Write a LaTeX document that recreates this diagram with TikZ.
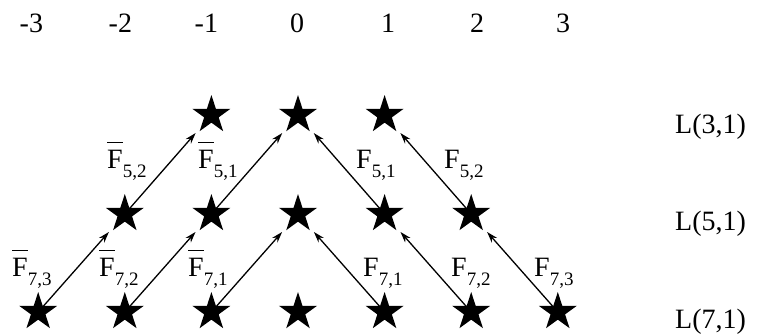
\documentclass[tikz,border=0pt]{standalone}
\usepackage{fontspec}
\setmainfont{Liberation Serif}
\usetikzlibrary{shapes.geometric,arrows.meta}
\newcommand\Fs[1]{F\raisebox{-9.5pt}{\fontsize{19}{19}\selectfont #1}}
\newcommand\Fbs[1]{\makebox[0pt][l]{\rule[25pt]{16pt}{1.4pt}}\Fs{#1}}
\tikzset{
  starnode/.style={star,star points=5,star point ratio=2.618,fill=black,draw=none,minimum size=40pt,inner sep=0pt},
  flab/.style={font=\fontsize{28}{28}\selectfont,inner sep=0pt,anchor=base west},
  collab/.style={font=\fontsize{28}{28}\selectfont,inner sep=0pt,anchor=base},
  rowlab/.style={font=\fontsize{28}{28}\selectfont,inner sep=0pt,anchor=base west},
  con/.style={-{Stealth[length=11pt,width=7pt]},line width=1.3pt,shorten >=24pt}
}
\begin{document}
\begin{tikzpicture}[x=1pt,y={(0pt,-1pt)}]
\path[use as bounding box] (0,0) rectangle (757,333);
% column labels
\node[collab] (cm3) at (36,32) {\llap{-}3};
\node[collab] (cm2) at (125,32) {\llap{-}2};
\node[collab] (cm1) at (211,32) {\llap{-}1};
\node[collab] (c0) at (297,32) {0};
\node[collab] (c1) at (388,32) {1};
\node[collab] (c2) at (477,32) {2};
\node[collab] (c3) at (563,32) {3};
% stars row L(3,1)
\node[starnode] (s3m1) at (211.4,115) {};
\node[starnode] (s30) at (298,115) {};
\node[starnode] (s31) at (384.6,115) {};
% stars row L(5,1)
\node[starnode] (s5m2) at (124.8,214) {};
\node[starnode] (s5m1) at (211.4,214) {};
\node[starnode] (s50) at (298,214) {};
\node[starnode] (s51) at (384.6,214) {};
\node[starnode] (s52) at (471.2,214) {};
% stars row L(7,1)
\node[starnode] (s7m3) at (38.2,312) {};
\node[starnode] (s7m2) at (124.8,312) {};
\node[starnode] (s7m1) at (211.4,312) {};
\node[starnode] (s70) at (298,312) {};
\node[starnode] (s71) at (384.6,312) {};
\node[starnode] (s72) at (471.2,312) {};
\node[starnode] (s73) at (557.8,312) {};
% connectors
\draw[con] (s7m3.center) -- (s5m2.center);
\draw[con] (s7m2.center) -- (s5m1.center);
\draw[con] (s7m1.center) -- (s50.center);
\draw[con] (s71.center) -- (s50.center);
\draw[con] (s72.center) -- (s51.center);
\draw[con] (s73.center) -- (s52.center);
\draw[con] (s5m2.center) -- (s3m1.center);
\draw[con] (s5m1.center) -- (s30.center);
\draw[con] (s51.center) -- (s30.center);
\draw[con] (s52.center) -- (s31.center);
% connector labels
\node[flab] (fb52) at (107,168) {\Fbs{5,2}};
\node[flab] (fb51) at (198,168) {\Fbs{5,1}};
\node[flab] (f51) at (356,168) {\Fs{5,1}};
\node[flab] (f52) at (444,168) {\Fs{5,2}};
\node[flab] (fb73) at (12,276) {\Fbs{7,3}};
\node[flab] (fb72) at (99,276) {\Fbs{7,2}};
\node[flab] (fb71) at (188,276) {\Fbs{7,1}};
\node[flab] (f71) at (363,276) {\Fs{7,1}};
\node[flab] (f72) at (451,276) {\Fs{7,2}};
\node[flab] (f73) at (534,276) {\Fs{7,3}};
% row labels
\node[rowlab] (l3) at (675,133) {L(3,1)};
\node[rowlab] (l5) at (675,230) {L(5,1)};
\node[rowlab] (l7) at (675,328) {L(7,1)};
\end{tikzpicture}
\end{document}
